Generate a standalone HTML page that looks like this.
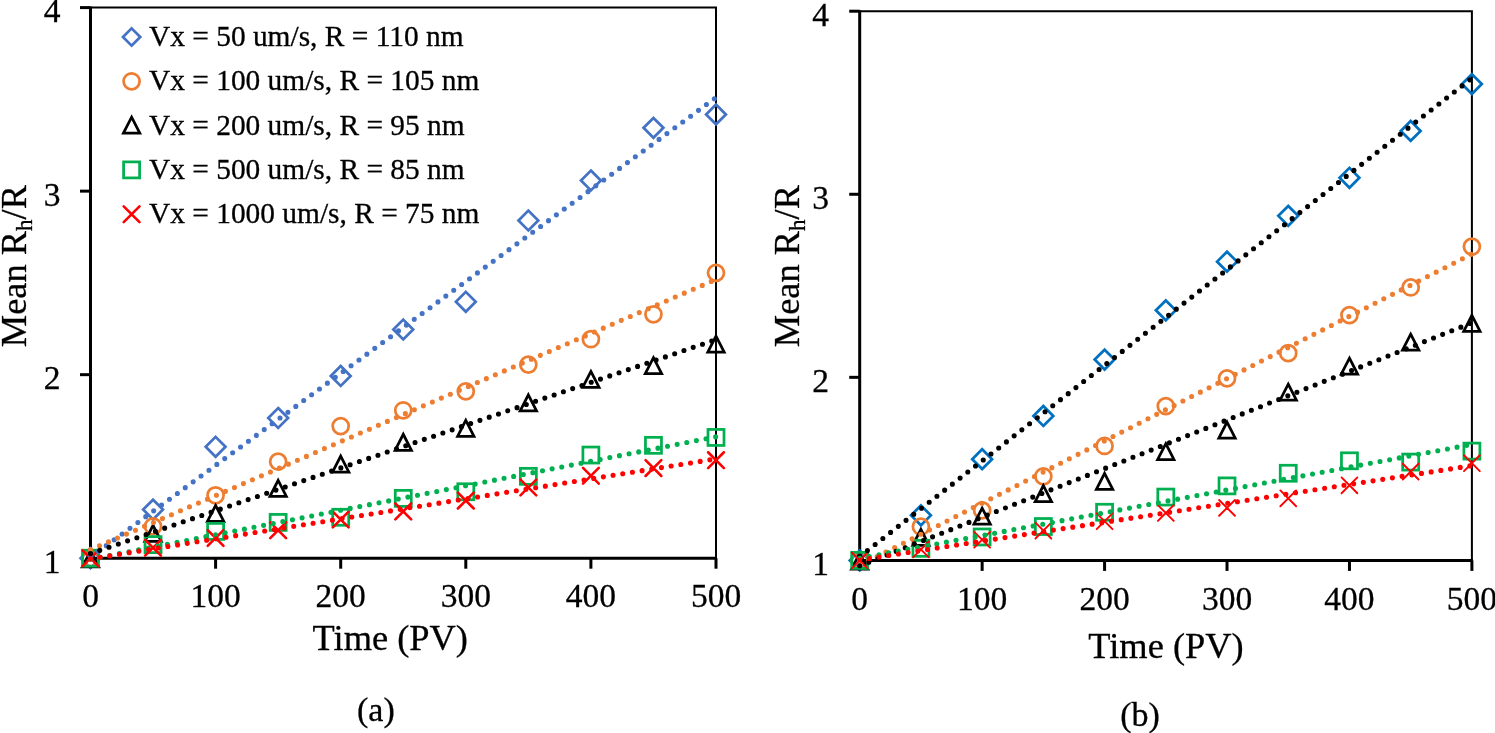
<!DOCTYPE html>
<html><head><meta charset="utf-8"><style>
html,body{margin:0;padding:0;background:#fff;}
svg{display:block;will-change:transform;}
text{font-family:"Liberation Serif",serif;fill:#000;stroke:#000;stroke-width:0.3px;}
.tk{font-size:33.5px;}
.ti{font-size:36.4px;}
.sub{font-size:23px;}
.lab{font-size:34px;}
.lg{font-size:29.4px;}
</style></head><body>
<svg width="1495" height="733" viewBox="0 0 1495 733">
<rect width="1495" height="733" fill="#fff"/>
<path d="M90.5 7.6H716V558.2" fill="none" stroke="#000" stroke-width="2"/>
<path d="M90.5 6.6V558.2H717" fill="none" stroke="#000" stroke-width="3"/>
<text x="60.5" y="572.8" text-anchor="end" class="tk">1</text>
<path d="M80 374.67H90.5" stroke="#000" stroke-width="3"/>
<text x="60.5" y="389.27" text-anchor="end" class="tk">2</text>
<path d="M80 191.13H90.5" stroke="#000" stroke-width="3"/>
<text x="60.5" y="205.73" text-anchor="end" class="tk">3</text>
<path d="M80 7.6H90.5" stroke="#000" stroke-width="3"/>
<text x="60.5" y="22.2" text-anchor="end" class="tk">4</text>
<text x="90.5" y="607" text-anchor="middle" class="tk">0</text>
<path d="M215.6 558.2V568.7" stroke="#000" stroke-width="3"/>
<text x="215.6" y="607" text-anchor="middle" class="tk">100</text>
<path d="M340.7 558.2V568.7" stroke="#000" stroke-width="3"/>
<text x="340.7" y="607" text-anchor="middle" class="tk">200</text>
<path d="M465.8 558.2V568.7" stroke="#000" stroke-width="3"/>
<text x="465.8" y="607" text-anchor="middle" class="tk">300</text>
<path d="M590.9 558.2V568.7" stroke="#000" stroke-width="3"/>
<text x="590.9" y="607" text-anchor="middle" class="tk">400</text>
<path d="M716 558.2V568.7" stroke="#000" stroke-width="3"/>
<text x="716" y="607" text-anchor="middle" class="tk">500</text>
<path d="M90.5 548.3L100.4 558.2L90.5 568.1L80.6 558.2Z" fill="none" stroke="#4472C4" stroke-width="2.75"/>
<path d="M153.05 499.66L162.95 509.56L153.05 519.46L143.15 509.56Z" fill="none" stroke="#4472C4" stroke-width="2.75"/>
<path d="M215.6 436.9L225.5 446.8L215.6 456.7L205.7 446.8Z" fill="none" stroke="#4472C4" stroke-width="2.75"/>
<path d="M278.15 408.08L288.05 417.98L278.15 427.88L268.25 417.98Z" fill="none" stroke="#4472C4" stroke-width="2.75"/>
<path d="M340.7 366.05L350.6 375.95L340.7 385.85L330.8 375.95Z" fill="none" stroke="#4472C4" stroke-width="2.75"/>
<path d="M403.25 319.62L413.15 329.52L403.25 339.42L393.35 329.52Z" fill="none" stroke="#4472C4" stroke-width="2.75"/>
<path d="M465.8 291.9L475.7 301.8L465.8 311.7L455.9 301.8Z" fill="none" stroke="#4472C4" stroke-width="2.75"/>
<path d="M528.35 210.6L538.25 220.5L528.35 230.4L518.45 220.5Z" fill="none" stroke="#4472C4" stroke-width="2.75"/>
<path d="M590.9 170.59L600.8 180.49L590.9 190.39L581 180.49Z" fill="none" stroke="#4472C4" stroke-width="2.75"/>
<path d="M653.45 117.91L663.35 127.81L653.45 137.71L643.55 127.81Z" fill="none" stroke="#4472C4" stroke-width="2.75"/>
<path d="M716 104.52L725.9 114.42L716 124.32L706.1 114.42Z" fill="none" stroke="#4472C4" stroke-width="2.75"/>
<circle cx="90.5" cy="558.2" r="8" fill="none" stroke="#ED7D31" stroke-width="2.75"/>
<circle cx="153.05" cy="526.45" r="8" fill="none" stroke="#ED7D31" stroke-width="2.75"/>
<circle cx="215.6" cy="495.25" r="8" fill="none" stroke="#ED7D31" stroke-width="2.75"/>
<circle cx="278.15" cy="461.66" r="8" fill="none" stroke="#ED7D31" stroke-width="2.75"/>
<circle cx="340.7" cy="426.06" r="8" fill="none" stroke="#ED7D31" stroke-width="2.75"/>
<circle cx="403.25" cy="410.27" r="8" fill="none" stroke="#ED7D31" stroke-width="2.75"/>
<circle cx="465.8" cy="391.37" r="8" fill="none" stroke="#ED7D31" stroke-width="2.75"/>
<circle cx="528.35" cy="364.57" r="8" fill="none" stroke="#ED7D31" stroke-width="2.75"/>
<circle cx="590.9" cy="339.24" r="8" fill="none" stroke="#ED7D31" stroke-width="2.75"/>
<circle cx="653.45" cy="314.28" r="8" fill="none" stroke="#ED7D31" stroke-width="2.75"/>
<circle cx="716" cy="272.81" r="8" fill="none" stroke="#ED7D31" stroke-width="2.75"/>
<path d="M90.5 550.98L98.7 566.98L82.3 566.98Z" fill="none" stroke="#000000" stroke-width="2.75" stroke-miterlimit="10"/>
<path d="M153.05 525.28L161.25 541.28L144.85 541.28Z" fill="none" stroke="#000000" stroke-width="2.75" stroke-miterlimit="10"/>
<path d="M215.6 505.46L223.8 521.46L207.4 521.46Z" fill="none" stroke="#000000" stroke-width="2.75" stroke-miterlimit="10"/>
<path d="M278.15 480.31L286.35 496.31L269.95 496.31Z" fill="none" stroke="#000000" stroke-width="2.75" stroke-miterlimit="10"/>
<path d="M340.7 456.09L348.9 472.09L332.5 472.09Z" fill="none" stroke="#000000" stroke-width="2.75" stroke-miterlimit="10"/>
<path d="M403.25 434.25L411.45 450.25L395.05 450.25Z" fill="none" stroke="#000000" stroke-width="2.75" stroke-miterlimit="10"/>
<path d="M465.8 420.3L474 436.3L457.6 436.3Z" fill="none" stroke="#000000" stroke-width="2.75" stroke-miterlimit="10"/>
<path d="M528.35 394.79L536.55 410.79L520.15 410.79Z" fill="none" stroke="#000000" stroke-width="2.75" stroke-miterlimit="10"/>
<path d="M590.9 371.48L599.1 387.48L582.7 387.48Z" fill="none" stroke="#000000" stroke-width="2.75" stroke-miterlimit="10"/>
<path d="M653.45 357.71L661.65 373.71L645.25 373.71Z" fill="none" stroke="#000000" stroke-width="2.75" stroke-miterlimit="10"/>
<path d="M716 336.06L724.2 352.06L707.8 352.06Z" fill="none" stroke="#000000" stroke-width="2.75" stroke-miterlimit="10"/>
<rect x="82.5" y="550.2" width="16" height="16" fill="none" stroke="#00B050" stroke-width="2.75"/>
<rect x="145.05" y="536.62" width="16" height="16" fill="none" stroke="#00B050" stroke-width="2.75"/>
<rect x="207.6" y="523.4" width="16" height="16" fill="none" stroke="#00B050" stroke-width="2.75"/>
<rect x="270.15" y="514.41" width="16" height="16" fill="none" stroke="#00B050" stroke-width="2.75"/>
<rect x="332.7" y="509.27" width="16" height="16" fill="none" stroke="#00B050" stroke-width="2.75"/>
<rect x="395.25" y="490.37" width="16" height="16" fill="none" stroke="#00B050" stroke-width="2.75"/>
<rect x="457.8" y="483.76" width="16" height="16" fill="none" stroke="#00B050" stroke-width="2.75"/>
<rect x="520.35" y="468.34" width="16" height="16" fill="none" stroke="#00B050" stroke-width="2.75"/>
<rect x="582.9" y="447.05" width="16" height="16" fill="none" stroke="#00B050" stroke-width="2.75"/>
<rect x="645.45" y="437.33" width="16" height="16" fill="none" stroke="#00B050" stroke-width="2.75"/>
<rect x="708" y="429.44" width="16" height="16" fill="none" stroke="#00B050" stroke-width="2.75"/>
<path d="M82.6 550.3L98.4 566.1M98.4 550.3L82.6 566.1" fill="none" stroke="#FF0000" stroke-width="2.6" stroke-linecap="round"/>
<path d="M145.15 539.84L160.95 555.64M160.95 539.84L145.15 555.64" fill="none" stroke="#FF0000" stroke-width="2.6" stroke-linecap="round"/>
<path d="M207.7 530.11L223.5 545.91M223.5 530.11L207.7 545.91" fill="none" stroke="#FF0000" stroke-width="2.6" stroke-linecap="round"/>
<path d="M270.25 522.4L286.05 538.2M286.05 522.4L270.25 538.2" fill="none" stroke="#FF0000" stroke-width="2.6" stroke-linecap="round"/>
<path d="M332.8 511.57L348.6 527.37M348.6 511.57L332.8 527.37" fill="none" stroke="#FF0000" stroke-width="2.6" stroke-linecap="round"/>
<path d="M395.35 503.5L411.15 519.3M411.15 503.5L395.35 519.3" fill="none" stroke="#FF0000" stroke-width="2.6" stroke-linecap="round"/>
<path d="M457.9 492.67L473.7 508.47M473.7 492.67L457.9 508.47" fill="none" stroke="#FF0000" stroke-width="2.6" stroke-linecap="round"/>
<path d="M520.45 479.64L536.25 495.44M536.25 479.64L520.45 495.44" fill="none" stroke="#FF0000" stroke-width="2.6" stroke-linecap="round"/>
<path d="M583 467.89L598.8 483.69M598.8 467.89L583 483.69" fill="none" stroke="#FF0000" stroke-width="2.6" stroke-linecap="round"/>
<path d="M645.55 460.19L661.35 475.99M661.35 460.19L645.55 475.99" fill="none" stroke="#FF0000" stroke-width="2.6" stroke-linecap="round"/>
<path d="M708.1 452.29L723.9 468.09M723.9 452.29L708.1 468.09" fill="none" stroke="#FF0000" stroke-width="2.6" stroke-linecap="round"/>
<path d="M90.5 557.28L716 97.53" stroke="#4472C4" stroke-width="5.1" stroke-linecap="round" stroke-dasharray="0 9.8" fill="none"/>
<path d="M90.5 549.67L716 279.45" stroke="#ED7D31" stroke-width="5.1" stroke-linecap="round" stroke-dasharray="0 9.8" fill="none"/>
<path d="M90.5 553.54L716 339.58" stroke="#000000" stroke-width="5.1" stroke-linecap="round" stroke-dasharray="0 9.8" fill="none"/>
<path d="M90.5 559.28L716 436.76" stroke="#00B050" stroke-width="5.1" stroke-linecap="round" stroke-dasharray="0 9.8" fill="none"/>
<path d="M90.5 558.83L716 458.86" stroke="#FF0000" stroke-width="5.1" stroke-linecap="round" stroke-dasharray="0 9.8" fill="none"/>
<text x="390.3" y="650" text-anchor="middle" class="ti">Time (PV)</text>
<text transform="translate(26 266.1) rotate(-90)" text-anchor="middle" class="ti">Mean R<tspan class="sub" dy="6">h</tspan><tspan dy="-6">/R</tspan></text>
<text x="375.9" y="721.2" text-anchor="middle" class="lab">(a)</text>
<path d="M859.7 11.2H1471.9V560.4" fill="none" stroke="#000" stroke-width="2"/>
<path d="M859.7 10.2V560.4H1472.9" fill="none" stroke="#000" stroke-width="3"/>
<text x="829" y="575" text-anchor="end" class="tk">1</text>
<path d="M849.2 377.33H859.7" stroke="#000" stroke-width="3"/>
<text x="829" y="391.93" text-anchor="end" class="tk">2</text>
<path d="M849.2 194.27H859.7" stroke="#000" stroke-width="3"/>
<text x="829" y="208.87" text-anchor="end" class="tk">3</text>
<path d="M849.2 11.2H859.7" stroke="#000" stroke-width="3"/>
<text x="829" y="25.8" text-anchor="end" class="tk">4</text>
<text x="859.7" y="609.8" text-anchor="middle" class="tk">0</text>
<path d="M982.14 560.4V570.9" stroke="#000" stroke-width="3"/>
<text x="982.14" y="609.8" text-anchor="middle" class="tk">100</text>
<path d="M1104.58 560.4V570.9" stroke="#000" stroke-width="3"/>
<text x="1104.58" y="609.8" text-anchor="middle" class="tk">200</text>
<path d="M1227.02 560.4V570.9" stroke="#000" stroke-width="3"/>
<text x="1227.02" y="609.8" text-anchor="middle" class="tk">300</text>
<path d="M1349.46 560.4V570.9" stroke="#000" stroke-width="3"/>
<text x="1349.46" y="609.8" text-anchor="middle" class="tk">400</text>
<path d="M1471.9 560.4V570.9" stroke="#000" stroke-width="3"/>
<text x="1471.9" y="609.8" text-anchor="middle" class="tk">500</text>
<path d="M859.7 550.5L869.6 560.4L859.7 570.3L849.8 560.4Z" fill="none" stroke="#0070C0" stroke-width="2.75"/>
<path d="M920.92 505.47L930.82 515.37L920.92 525.27L911.02 515.37Z" fill="none" stroke="#0070C0" stroke-width="2.75"/>
<path d="M982.14 449.26L992.04 459.16L982.14 469.06L972.24 459.16Z" fill="none" stroke="#0070C0" stroke-width="2.75"/>
<path d="M1043.36 406.06L1053.26 415.96L1043.36 425.86L1033.46 415.96Z" fill="none" stroke="#0070C0" stroke-width="2.75"/>
<path d="M1104.58 349.68L1114.48 359.58L1104.58 369.48L1094.68 359.58Z" fill="none" stroke="#0070C0" stroke-width="2.75"/>
<path d="M1165.8 300.43L1175.7 310.33L1165.8 320.23L1155.9 310.33Z" fill="none" stroke="#0070C0" stroke-width="2.75"/>
<path d="M1227.02 251.74L1236.92 261.64L1227.02 271.54L1217.12 261.64Z" fill="none" stroke="#0070C0" stroke-width="2.75"/>
<path d="M1288.24 205.97L1298.14 215.87L1288.24 225.77L1278.34 215.87Z" fill="none" stroke="#0070C0" stroke-width="2.75"/>
<path d="M1349.46 167.89L1359.36 177.79L1349.46 187.69L1339.56 177.79Z" fill="none" stroke="#0070C0" stroke-width="2.75"/>
<path d="M1410.68 121.03L1420.58 130.93L1410.68 140.83L1400.78 130.93Z" fill="none" stroke="#0070C0" stroke-width="2.75"/>
<path d="M1471.9 74.16L1481.8 84.06L1471.9 93.96L1462 84.06Z" fill="none" stroke="#0070C0" stroke-width="2.75"/>
<circle cx="859.7" cy="560.4" r="8" fill="none" stroke="#ED7D31" stroke-width="2.75"/>
<circle cx="920.92" cy="526.72" r="8" fill="none" stroke="#ED7D31" stroke-width="2.75"/>
<circle cx="982.14" cy="510.42" r="8" fill="none" stroke="#ED7D31" stroke-width="2.75"/>
<circle cx="1043.36" cy="476.37" r="8" fill="none" stroke="#ED7D31" stroke-width="2.75"/>
<circle cx="1104.58" cy="445.98" r="8" fill="none" stroke="#ED7D31" stroke-width="2.75"/>
<circle cx="1165.8" cy="406.07" r="8" fill="none" stroke="#ED7D31" stroke-width="2.75"/>
<circle cx="1227.02" cy="378.43" r="8" fill="none" stroke="#ED7D31" stroke-width="2.75"/>
<circle cx="1288.24" cy="353.17" r="8" fill="none" stroke="#ED7D31" stroke-width="2.75"/>
<circle cx="1349.46" cy="315.09" r="8" fill="none" stroke="#ED7D31" stroke-width="2.75"/>
<circle cx="1410.68" cy="287.45" r="8" fill="none" stroke="#ED7D31" stroke-width="2.75"/>
<circle cx="1471.9" cy="246.62" r="8" fill="none" stroke="#ED7D31" stroke-width="2.75"/>
<path d="M859.7 553.17L867.9 569.17L851.5 569.17Z" fill="none" stroke="#000000" stroke-width="2.75" stroke-miterlimit="10"/>
<path d="M920.92 529.38L929.12 545.38L912.72 545.38Z" fill="none" stroke="#000000" stroke-width="2.75" stroke-miterlimit="10"/>
<path d="M982.14 508.14L990.34 524.14L973.94 524.14Z" fill="none" stroke="#000000" stroke-width="2.75" stroke-miterlimit="10"/>
<path d="M1043.36 485.62L1051.56 501.62L1035.16 501.62Z" fill="none" stroke="#000000" stroke-width="2.75" stroke-miterlimit="10"/>
<path d="M1104.58 473.36L1112.78 489.36L1096.38 489.36Z" fill="none" stroke="#000000" stroke-width="2.75" stroke-miterlimit="10"/>
<path d="M1165.8 443.7L1174 459.7L1157.6 459.7Z" fill="none" stroke="#000000" stroke-width="2.75" stroke-miterlimit="10"/>
<path d="M1227.02 422.1L1235.22 438.1L1218.82 438.1Z" fill="none" stroke="#000000" stroke-width="2.75" stroke-miterlimit="10"/>
<path d="M1288.24 384.2L1296.44 400.2L1280.04 400.2Z" fill="none" stroke="#000000" stroke-width="2.75" stroke-miterlimit="10"/>
<path d="M1349.46 358.21L1357.66 374.21L1341.26 374.21Z" fill="none" stroke="#000000" stroke-width="2.75" stroke-miterlimit="10"/>
<path d="M1410.68 334.23L1418.88 350.23L1402.48 350.23Z" fill="none" stroke="#000000" stroke-width="2.75" stroke-miterlimit="10"/>
<path d="M1471.9 315.37L1480.1 331.37L1463.7 331.37Z" fill="none" stroke="#000000" stroke-width="2.75" stroke-miterlimit="10"/>
<rect x="851.7" y="552.4" width="16" height="16" fill="none" stroke="#00B050" stroke-width="2.75"/>
<rect x="912.92" y="540.32" width="16" height="16" fill="none" stroke="#00B050" stroke-width="2.75"/>
<rect x="974.14" y="528.97" width="16" height="16" fill="none" stroke="#00B050" stroke-width="2.75"/>
<rect x="1035.36" y="518.53" width="16" height="16" fill="none" stroke="#00B050" stroke-width="2.75"/>
<rect x="1096.58" y="504.25" width="16" height="16" fill="none" stroke="#00B050" stroke-width="2.75"/>
<rect x="1157.8" y="489.06" width="16" height="16" fill="none" stroke="#00B050" stroke-width="2.75"/>
<rect x="1219.02" y="477.89" width="16" height="16" fill="none" stroke="#00B050" stroke-width="2.75"/>
<rect x="1280.24" y="465.26" width="16" height="16" fill="none" stroke="#00B050" stroke-width="2.75"/>
<rect x="1341.46" y="452.81" width="16" height="16" fill="none" stroke="#00B050" stroke-width="2.75"/>
<rect x="1402.68" y="454.09" width="16" height="16" fill="none" stroke="#00B050" stroke-width="2.75"/>
<rect x="1463.9" y="443.11" width="16" height="16" fill="none" stroke="#00B050" stroke-width="2.75"/>
<path d="M851.8 552.5L867.6 568.3M867.6 552.5L851.8 568.3" fill="none" stroke="#FF0000" stroke-width="1.9" stroke-linecap="round"/>
<path d="M913.02 541.52L928.82 557.32M928.82 541.52L913.02 557.32" fill="none" stroke="#FF0000" stroke-width="1.9" stroke-linecap="round"/>
<path d="M974.24 531.81L990.04 547.61M990.04 531.81L974.24 547.61" fill="none" stroke="#FF0000" stroke-width="1.9" stroke-linecap="round"/>
<path d="M1035.46 522.66L1051.26 538.46M1051.26 522.66L1035.46 538.46" fill="none" stroke="#FF0000" stroke-width="1.9" stroke-linecap="round"/>
<path d="M1096.68 513.32L1112.48 529.12M1112.48 513.32L1096.68 529.12" fill="none" stroke="#FF0000" stroke-width="1.9" stroke-linecap="round"/>
<path d="M1157.9 505.09L1173.7 520.89M1173.7 505.09L1157.9 520.89" fill="none" stroke="#FF0000" stroke-width="1.9" stroke-linecap="round"/>
<path d="M1219.12 499.96L1234.92 515.76M1234.92 499.96L1219.12 515.76" fill="none" stroke="#FF0000" stroke-width="1.9" stroke-linecap="round"/>
<path d="M1280.34 490.44L1296.14 506.24M1296.14 490.44L1280.34 506.24" fill="none" stroke="#FF0000" stroke-width="1.9" stroke-linecap="round"/>
<path d="M1341.56 477.44L1357.36 493.24M1357.36 477.44L1341.56 493.24" fill="none" stroke="#FF0000" stroke-width="1.9" stroke-linecap="round"/>
<path d="M1402.78 463.71L1418.58 479.51M1418.58 463.71L1402.78 479.51" fill="none" stroke="#FF0000" stroke-width="1.9" stroke-linecap="round"/>
<path d="M1464 455.29L1479.8 471.09M1479.8 455.29L1464 471.09" fill="none" stroke="#FF0000" stroke-width="1.9" stroke-linecap="round"/>
<path d="M859.7 556.54L1471.9 78.2" stroke="#000000" stroke-width="5.1" stroke-linecap="round" stroke-dasharray="0 9.8" fill="none"/>
<path d="M859.7 565.43L1471.9 253.98" stroke="#ED7D31" stroke-width="5.1" stroke-linecap="round" stroke-dasharray="0 9.8" fill="none"/>
<path d="M859.7 565.79L1471.9 322.75" stroke="#000000" stroke-width="5.1" stroke-linecap="round" stroke-dasharray="0 9.8" fill="none"/>
<path d="M859.7 558.28L1471.9 444.39" stroke="#00B050" stroke-width="5.1" stroke-linecap="round" stroke-dasharray="0 9.8" fill="none"/>
<path d="M859.7 559.98L1471.9 465.6" stroke="#FF0000" stroke-width="5.1" stroke-linecap="round" stroke-dasharray="0 9.8" fill="none"/>
<text x="1166" y="658.3" text-anchor="middle" class="ti">Time (PV)</text>
<text transform="translate(799.2 266.1) rotate(-90)" text-anchor="middle" class="ti">Mean R<tspan class="sub" dy="6">h</tspan><tspan dy="-6">/R</tspan></text>
<text x="1140" y="726.3" text-anchor="middle" class="lab">(b)</text>
<path d="M131.6 28.36L140.24 37L131.6 45.64L122.96 37Z" fill="none" stroke="#4472C4" stroke-width="2.75"/>
<text x="149" y="46.1" class="lg">Vx = 50 um/s, R = 110 nm</text>
<circle cx="131.6" cy="81.3" r="8" fill="none" stroke="#ED7D31" stroke-width="2.75"/>
<text x="149" y="90.4" class="lg">Vx = 100 um/s, R = 105 nm</text>
<path d="M131.6 117.17L139.8 133.17L123.4 133.17Z" fill="none" stroke="#000000" stroke-width="2.75" stroke-miterlimit="10"/>
<text x="149" y="134.7" class="lg">Vx = 200 um/s, R = 95 nm</text>
<rect x="123.6" y="161.9" width="16" height="16" fill="none" stroke="#00B050" stroke-width="2.75"/>
<text x="149" y="179" class="lg">Vx = 500 um/s, R = 85 nm</text>
<path d="M123.7 206.3L139.5 222.1M139.5 206.3L123.7 222.1" fill="none" stroke="#FF0000" stroke-width="2.6" stroke-linecap="round"/>
<text x="149" y="223.3" class="lg">Vx = 1000 um/s, R = 75 nm</text>
</svg>
</body></html>
